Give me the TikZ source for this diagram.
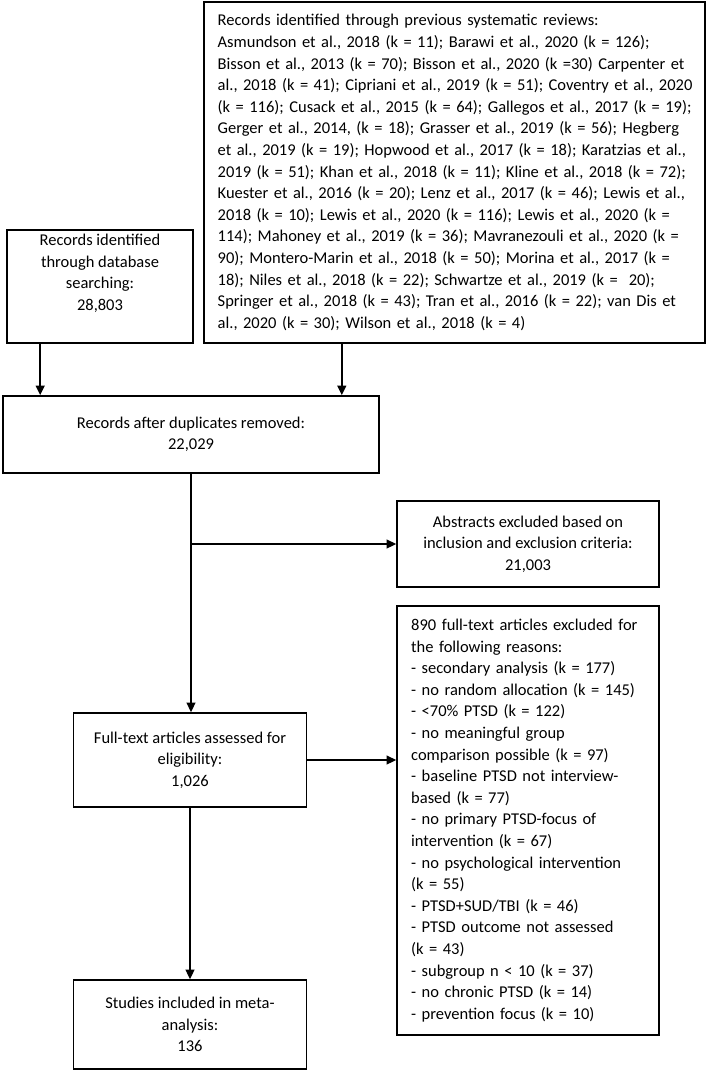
\documentclass[tikz,border=0pt]{standalone}
\usepackage{fontspec}
\setmainfont{Carlito}
\usetikzlibrary{arrows.meta}
\newcommand{\spreadline}[1]{\makebox[296pt][s]{#1}}

\begin{document}
\begin{tikzpicture}[x=0.625pt,y=-0.625pt,
    box/.style={draw,line width=1pt,inner sep=0pt,font=\fontsize{10.3}{13.5}\selectfont},
    arr/.style={line width=1.1pt,-{Triangle[length=6pt,width=5.5pt]}}]
                \fill[white] (0,0) rectangle (708,1071);
                \useasboundingbox (0,0) rectangle (708,1071);
                %% sources
                \node[box,align=center,minimum width=116.25pt,minimum height=70.6pt] (dbase) at (100,286.5)
                    {Records identified\\through database\\searching:\\28,803\\ \strut};
                \node[box,text width=296pt,align=left,inner xsep=8.55pt,minimum height=213.1pt] (prev) at (454.5,172.5)
                    {Records identified through previous systematic reviews:\\
                    \spreadline{Asmundson et al., 2018 (k = 11); Barawi et al., 2020 (k = 126);}\\
                    \spreadline{Bisson et al., 2013 (k = 70); Bisson et al., 2020 (k =30) Carpenter et}\\
                    \spreadline{al., 2018 (k = 41); Cipriani et al., 2019 (k = 51); Coventry et al., 2020}\\
                    \spreadline{(k = 116); Cusack et al., 2015 (k = 64); Gallegos et al., 2017 (k = 19);}\\
                    \spreadline{Gerger et al., 2014, (k = 18); Grasser et al., 2019 (k = 56); Hegberg}\\
                    \spreadline{et al., 2019 (k = 19); Hopwood et al., 2017 (k = 18); Karatzias et al.,}\\
                    \spreadline{2019 (k = 51); Khan et al., 2018 (k = 11); Kline et al., 2018 (k = 72);}\\
                    \spreadline{Kuester et al., 2016 (k = 20); Lenz et al., 2017 (k = 46); Lewis et al.,}\\
                    \spreadline{2018 (k = 10); Lewis et al., 2020 (k = 116); Lewis et al., 2020 (k =}\\
                    \spreadline{114); Mahoney et al., 2019 (k = 36); Mavranezouli et al., 2020 (k =}\\
                    \spreadline{90); Montero-Marin et al., 2018 (k = 50); Morina et al., 2017 (k =}\\
                    \spreadline{18); Niles et al., 2018 (k = 22); Schwartze et al., 2019 (k = \ 20);}\\
                    \spreadline{Springer et al., 2018 (k = 43); Tran et al., 2016 (k = 22); van Dis et}\\
                    al., 2020 (k = 30); Wilson et al., 2018 (k = 4)};
                %% screening
                \node[box,align=center,minimum width=235pt,minimum height=48.1pt] (dup) at (191,434.5)
                    {Records after duplicates removed:\\22,029};
                \node[box,align=center,minimum width=163.75pt,minimum height=53.75pt] (abstr) at (528,544)
                    {Abstracts excluded based on\\inclusion and exclusion criteria:\\21,003};
                \node[box,align=center,minimum width=145.6pt,minimum height=58.75pt] (full) at (190,760)
                    {Full-text articles assessed for\\eligibility:\\1,026};
                \node[box,text width=146pt,align=left,inner xsep=8.875pt,minimum height=268.1pt] (excl) at (528,820.5)
                    {890 full-text articles excluded for\\
                    the following reasons:\\
                    - secondary analysis (k = 177)\\
                    - no random allocation (k = 145)\\
                    - <70\% PTSD (k = 122)\\
                    - no meaningful group\\
                    comparison possible (k = 97)\\
                    - baseline PTSD not interview-\\
                    based (k = 77)\\
                    - no primary PTSD-focus of\\
                    intervention (k = 67)\\
                    - no psychological intervention\\
                    (k = 55)\\
                    - PTSD+SUD/TBI (k = 46)\\
                    - PTSD outcome not assessed\\
                    (k = 43)\\
                    - subgroup n < 10 (k = 37)\\
                    - no chronic PTSD (k = 14)\\
                    - prevention focus (k = 10)};
                \node[box,align=center,minimum width=145.6pt,minimum height=55.6pt] (stud) at (190,1024.5)
                    {Studies included in meta-\\analysis:\\136};
                %% arrows
                \draw[arr] ([xshift=23.75pt]dup.north west |- dbase.south) -- ([xshift=23.75pt]dup.north west);
                \draw[arr] ([xshift=-23.75pt]dup.north east |- prev.south) -- ([xshift=-23.75pt]dup.north east);
                \draw[arr] (dup.south) -- (dup.south |- full.north);
                \draw[arr] (dup.south |- abstr.west) -- (abstr.west);
                \draw[arr] (full.east) -- (full.east -| excl.west);
                \draw[arr] (full.south) -- (full.south |- stud.north);
            \end{tikzpicture}
\end{document}
